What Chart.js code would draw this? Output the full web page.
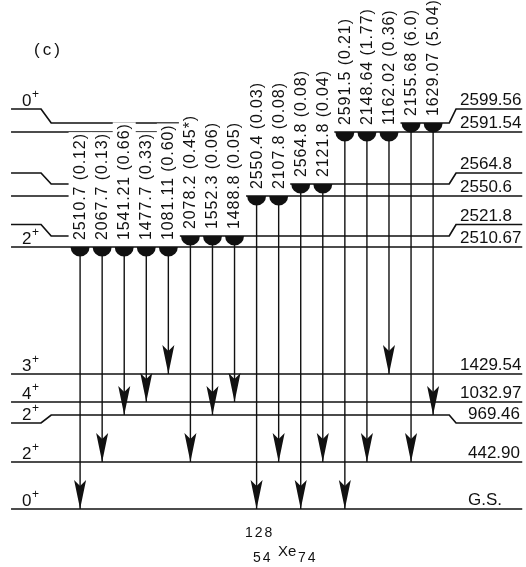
<!DOCTYPE html>
<html>
<head>
<meta charset="utf-8">
<script src="https://cdn.jsdelivr.net/npm/chart.js@4.4.0/dist/chart.umd.min.js"></script>
<style>
  html, body { margin: 0; padding: 0; background: #fff; }
  #wrap { width: 526px; height: 567px; }
</style>
</head>
<body>
<div id="wrap"><canvas id="scheme" width="526" height="567"></canvas></div>
<script>
// 128Xe levels (keV)
const levelEnergy = [2599.56, 2591.54, 2564.8, 2550.6, 2521.8, 2510.67, 1429.54, 1032.97, 969.46, 442.90, 0];
const levelLabel  = ['2599.56', '2591.54', '2564.8', '2550.6', '2521.8', '2510.67', '1429.54', '1032.97', '969.46', '442.90', 'G.S.'];
const levelSpin   = ['0', '', '', '', '', '2', '3', '4', '2', '2', '0'];

// gamma transitions, left to right
const gammaEnergy    = ['2510.7', '2067.7', '1541.21', '1477.7', '1081.11', '2078.2', '1552.3', '1488.8', '2550.4', '2107.8', '2564.8', '2121.8', '2591.5', '2148.64', '1162.02', '2155.68', '1629.07'];
const gammaIntensity = ['0.12', '0.13', '0.66', '0.33', '0.60', '0.45*', '0.06', '0.05', '0.03', '0.08', '0.08', '0.04', '0.21', '1.77', '0.36', '6.0', '5.04'];
const gammaFrom = [2510.67, 2510.67, 2510.67, 2510.67, 2510.67, 2521.8, 2521.8, 2521.8, 2550.6, 2550.6, 2564.8, 2564.8, 2591.54, 2591.54, 2591.54, 2599.56, 2599.56];
const gammaTo   = [0, 442.90, 969.46, 1032.97, 1429.54, 442.90, 969.46, 1032.97, 0, 442.90, 0, 442.90, 0, 442.90, 1429.54, 442.90, 969.46];

const nuclide = { A: '128', Z: '54', N: '74', sym: 'Xe' };

// ---- layout (schematic, not to scale) ----
// energy -> height on the drawing
const levelStops = [[0, 58], [442.90, 105], [969.46, 152], [1032.97, 165], [1429.54, 193],
  [2510.67, 320], [2521.8, 331], [2550.6, 371], [2564.8, 383], [2591.54, 435], [2599.56, 444]];
// split levels: side segments offset (px) from the middle part
const sideShift = { '2599.56': -14, '2564.8': -11, '2521.8': -11.5, '969.46': 8 };
const labelIndent = { '969.46': true, '442.90': true, 'G.S.': true };
const LINE_X = [-3.13, 20.04];
const KNEE_L = [-1.77, -1.31];
const KNEE_R = [16.73, 17.04];
const SPIN_X = -2.63;
const RIGHT_X = [17.22, 17.58];
const FONT = '"Liberation Sans", Arial, Helvetica, sans-serif';
const INK = '#111';

class SchematicScale extends Chart.LinearScale {
  toHeight(v) {
    const s = this.options.stops;
    if (v <= s[0][0]) return s[0][1];
    for (let i = 1; i < s.length; i++) {
      if (v <= s[i][0]) {
        const t = (v - s[i - 1][0]) / (s[i][0] - s[i - 1][0]);
        return s[i - 1][1] + t * (s[i][1] - s[i - 1][1]);
      }
    }
    return s[s.length - 1][1];
  }
  getPixelForValue(v) {
    return v === null ? NaN : super.getPixelForValue(this.toHeight(v));
  }
}
SchematicScale.id = 'schematic';
SchematicScale.defaults = Chart.LinearScale.defaults;
Chart.register(SchematicScale);

function supText(ctx, base, sup, x, y, size) {
  ctx.font = size + 'px ' + FONT;
  ctx.fillText(base, x, y);
  const w = ctx.measureText(base).width;
  ctx.font = Math.round(size * 0.7) + 'px ' + FONT;
  ctx.fillText(sup, x + w + 0.5, y - size * 0.45);
}

const schemePlugin = {
  id: 'scheme',
  beforeDatasetsDraw(chart) {
    const { ctx, scales: { x, y } } = chart;
    ctx.save();
    // level lines
    ctx.strokeStyle = INK;
    ctx.lineWidth = 1.7;
    levelEnergy.forEach((e, i) => {
      const ym = y.getPixelForValue(e);
      const ys = ym + (sideShift[levelLabel[i]] || 0);
      ctx.beginPath();
      ctx.moveTo(x.getPixelForValue(LINE_X[0]), ys);
      if (ys !== ym) {
        ctx.lineTo(x.getPixelForValue(KNEE_L[0]), ys);
        ctx.lineTo(x.getPixelForValue(KNEE_L[1]), ym);
        ctx.lineTo(x.getPixelForValue(KNEE_R[0]), ym);
        ctx.lineTo(x.getPixelForValue(KNEE_R[1]), ys);
      }
      ctx.lineTo(x.getPixelForValue(LINE_X[1]), ys);
      ctx.stroke();
    });
    // gamma labels, knocking out the lines behind them
    ctx.font = '16px ' + FONT;
    ctx.letterSpacing = '0.9px';
    ctx.textBaseline = 'middle';
    ctx.textAlign = 'left';
    gammaEnergy.forEach((g, i) => {
      const txt = g + ' (' + gammaIntensity[i] + ')';
      const x0 = x.getPixelForValue(i);
      const y0 = y.getPixelForValue(gammaFrom[i]) - 7;
      ctx.save();
      ctx.translate(x0, y0);
      ctx.rotate(-Math.PI / 2);
      const w = ctx.measureText(txt).width;
      ctx.fillStyle = '#fff';
      ctx.fillRect(-1, -11.5, w + 2, 23);
      ctx.fillStyle = INK;
      ctx.fillText(txt, 0, 0.5);
      ctx.restore();
    });
    ctx.restore();
  },
  afterDatasetsDraw(chart) {
    const { ctx, chartArea: a, scales: { x, y } } = chart;
    ctx.save();
    ctx.fillStyle = INK;
    gammaEnergy.forEach((g, i) => {
      const x0 = x.getPixelForValue(i);
      const yf = y.getPixelForValue(gammaFrom[i]);
      const yt = y.getPixelForValue(gammaTo[i]);
      // half disc under the initial level
      ctx.beginPath();
      ctx.arc(x0, yf, 9.5, 0, Math.PI);
      ctx.closePath();
      ctx.fill();
      // arrowhead on the final level
      ctx.beginPath();
      ctx.moveTo(x0, yt);
      ctx.lineTo(x0 - 6, yt - 29);
      ctx.lineTo(x0, yt - 23);
      ctx.lineTo(x0 + 6, yt - 29);
      ctx.closePath();
      ctx.fill();
    });
    // spins on the left, energies on the right
    ctx.textBaseline = 'alphabetic';
    ctx.textAlign = 'left';
    levelEnergy.forEach((e, i) => {
      const ys = y.getPixelForValue(e) + (sideShift[levelLabel[i]] || 0);
      ctx.letterSpacing = '0px';
      if (levelSpin[i]) supText(ctx, levelSpin[i], '+', x.getPixelForValue(SPIN_X), ys - 3, 17);
      ctx.font = '17px ' + FONT;
      const lx = x.getPixelForValue(labelIndent[levelLabel[i]] ? RIGHT_X[1] : RIGHT_X[0]);
      ctx.fillText(levelLabel[i], lx, ys - 4);
    });
    // panel tag and nuclide
    ctx.font = '17px ' + FONT;
    ctx.letterSpacing = '3px';
    ctx.fillText('(c)', a.left + 34, a.top + 55);
    ctx.font = '14px ' + FONT;
    ctx.letterSpacing = '2px';
    ctx.fillText(nuclide.A, a.left + 245, a.top + 537);
    ctx.fillText(nuclide.Z, a.left + 253, a.top + 562);
    ctx.fillText(nuclide.N, a.left + 298, a.top + 562);
    ctx.font = '15px ' + FONT;
    ctx.letterSpacing = '0px';
    ctx.fillText(nuclide.sym, a.left + 278, a.top + 556);
    ctx.restore();
  }
};

const datasets = gammaEnergy.map((g, i) => ({
  label: g,
  data: [{ x: i, y: gammaFrom[i] }, { x: i, y: gammaTo[i] }],
  borderColor: INK,
  borderWidth: 1.4,
  pointRadius: 0,
  fill: false
}));

new Chart(document.getElementById('scheme'), {
  type: 'line',
  data: { datasets },
  options: {
    responsive: false,
    animation: false,
    layout: { padding: 0 },
    plugins: { legend: { display: false }, tooltip: { enabled: false }, title: { display: false } },
    scales: {
      x: { type: 'linear', min: -3.63, max: 20.21, display: false },
      y: { type: 'schematic', min: 0, max: 567, stops: levelStops, display: false }
    }
  },
  plugins: [schemePlugin]
});
</script>
</body>
</html>
